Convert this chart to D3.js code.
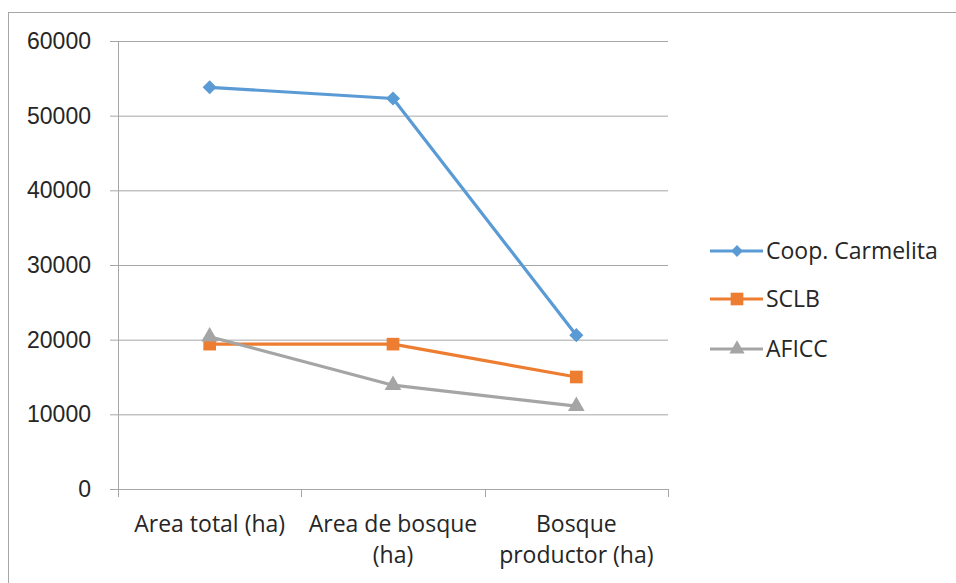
<!DOCTYPE html>
<html>
<head>
<meta charset="utf-8">
<script src="https://cdn.jsdelivr.net/npm/d3@7"></script>
<style>
  body { margin: 0; background: #fff; }
  svg { display: block; font-family: "Open Sans", "Noto Sans", sans-serif; }
</style>
</head>
<body>
<script>
const width = 956,
  height = 583;

const categories = [
  ["Area total (ha)"],
  ["Area de bosque", "(ha)"],
  ["Bosque", "productor (ha)"],
];
const seriesNames = ["Coop. Carmelita", "SCLB", "AFICC"];
const carmelita = [53800, 52300, 20600];
const sclb = [19400, 19400, 15000];
const aficc = [20400, 13900, 11100];
const yTicks = [0, 10000, 20000, 30000, 40000, 50000, 60000];

const colors = ["#5b9bd5", "#ed7d31", "#a5a5a5"];
const series = [carmelita, sclb, aficc];

const plotLeft = 118,
  plotRight = 668,
  plotTop = 41,
  plotBottom = 489,
  fontSize = 23;

// marker shapes: diamond is a square turned 45 degrees
const markerPath = (s, big) => {
  if (s === 0) return d3.symbol().type(d3.symbolSquare).size(big ? 100 : 70)();
  if (s === 1) return d3.symbol().type(d3.symbolSquare).size(big ? 160 : 160)();
  return d3.symbol().type(d3.symbolTriangle).size(big ? 120 : 100)();
};
const markerRotate = (s) => (s === 0 ? " rotate(45)" : "");

const svg = d3
  .select("body")
  .append("svg")
  .attr("width", width)
  .attr("height", height);

// chart border
svg
  .append("rect")
  .attr("x", 8.5)
  .attr("y", 12.5)
  .attr("width", 1000)
  .attr("height", 1000)
  .attr("fill", "none")
  .attr("stroke", "#a6a6a6");

const x = d3
  .scalePoint()
  .domain(d3.range(categories.length))
  .range([plotLeft, plotRight])
  .padding(0.5);

const y = d3.scaleLinear().domain([0, 60000]).range([plotBottom, plotTop]);

// y axis with gridlines
const axisY = d3
  .axisLeft(y)
  .tickValues(yTicks)
  .tickSize(-(plotRight - plotLeft))
  .tickPadding(27)
  .tickFormat(d3.format("d"));

const gy = svg
  .append("g")
  .attr("transform", `translate(${plotLeft},0)`)
  .call(axisY);
gy.select(".domain").remove();
gy.selectAll(".tick line")
  .attr("x1", -8)
  .attr("stroke", "#a6a6a6");
gy.selectAll(".tick text")
  .attr("font-size", fontSize)
  .attr("fill", "#262626")
  .attr("font-family", "inherit");

// vertical axis line
svg
  .append("line")
  .attr("x1", plotLeft + 0.5)
  .attr("x2", plotLeft + 0.5)
  .attr("y1", plotTop)
  .attr("y2", plotBottom + 8)
  .attr("stroke", "#a6a6a6");

// category tick marks
const boundaries = d3.range(categories.length + 1).map(
  (i) => plotLeft + (i * (plotRight - plotLeft)) / categories.length
);
svg
  .append("g")
  .selectAll("line")
  .data(boundaries)
  .enter()
  .append("line")
  .attr("x1", (d) => Math.round(d) + 0.5)
  .attr("x2", (d) => Math.round(d) + 0.5)
  .attr("y1", plotBottom)
  .attr("y2", plotBottom + 8)
  .attr("stroke", "#a6a6a6");

// category labels
const labels = svg
  .append("g")
  .selectAll("text")
  .data(categories)
  .enter()
  .append("text")
  .attr("text-anchor", "middle")
  .attr("font-size", fontSize)
  .attr("fill", "#262626")
  .attr("x", (d, i) => x(i));
labels
  .selectAll("tspan")
  .data((d) => d)
  .enter()
  .append("tspan")
  .attr("x", function () {
    return this.parentNode.getAttribute("x");
  })
  .attr("y", (d, i) => 532 + i * 31)
  .text((d) => d);

// lines and markers
const line = d3
  .line()
  .x((d, i) => x(i))
  .y((d) => y(d));

series.forEach((values, s) => {
  const g = svg.append("g");
  g.append("path")
    .datum(values)
    .attr("d", line)
    .attr("fill", "none")
    .attr("stroke", colors[s])
    .attr("stroke-width", 3.2)
    .attr("stroke-linejoin", "round");
  g.selectAll("path.m")
    .data(values)
    .enter()
    .append("path")
    .attr("class", "m")
    .attr("transform", (d, i) => `translate(${x(i)},${y(d)})${markerRotate(s)}`)
    .attr("d", markerPath(s, true))
    .attr("fill", colors[s]);
});

// legend
const legend = svg
  .append("g")
  .selectAll("g")
  .data(seriesNames)
  .enter()
  .append("g")
  .attr("transform", (d, i) => `translate(710,${[251, 299, 349][i]})`);

legend
  .append("line")
  .attr("x1", 0)
  .attr("x2", 53)
  .attr("stroke", (d, i) => colors[i])
  .attr("stroke-width", 3.2);
legend
  .append("path")
  .attr("transform", (d, i) => `translate(27,0)${markerRotate(i)}`)
  .attr("d", (d, i) => markerPath(i, false))
  .attr("fill", (d, i) => colors[i]);
legend
  .append("text")
  .attr("x", 56)
  .attr("dy", "0.35em")
  .attr("font-size", fontSize)
  .attr("fill", "#262626")
  .text((d) => d);
</script>
</body>
</html>
